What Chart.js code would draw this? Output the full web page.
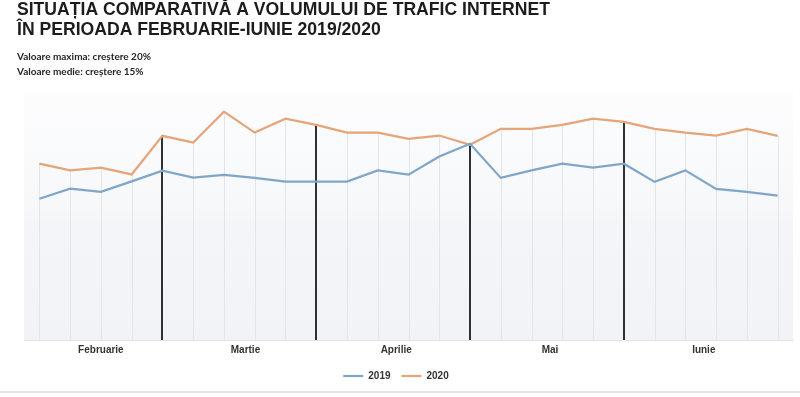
<!DOCTYPE html>
<html>
<head>
<meta charset="utf-8">
<script src="https://cdn.jsdelivr.net/npm/chart.js@4/dist/chart.umd.min.js"></script>
<style>
  html, body { margin: 0; padding: 0; background: #fff; }
  .wrap { width: 800px; height: 391px; border-bottom: 2px solid #e4e4e4; position: relative; }
</style>
</head>
<body>
<div class="wrap"><canvas id="chart" width="800" height="391"></canvas></div>
<script>
const titleLines = ["SITUAȚIA COMPARATIVĂ A VOLUMULUI DE TRAFIC INTERNET", "ÎN PERIOADA FEBRUARIE-IUNIE 2019/2020"];
const subtitleLines = ["Valoare maxima: creștere 20%", "Valoare medie: creștere 15%"];

const months = ["Februarie", "Martie", "Aprilie", "Mai", "Iunie"];
const monthTicks = [2, 6.7, 11.6, 16.6, 21.6];
const monthBreaks = [4, 9, 14, 19];

const values2019 = [56.7, 60.8, 59.5, 63.7, 68.0, 65.2, 66.3, 65.1, 63.6, 63.6, 63.6, 68.1, 66.4,
                    73.7, 78.8, 65.1, 68.1, 70.8, 69.2, 70.8, 63.5, 68.1, 60.7, 59.5, 58.0];
const values2020 = [70.8, 68.1, 69.2, 66.5, 82.0, 79.3, 91.7, 83.3, 88.9, 86.4, 83.3, 83.3, 80.8,
                    82.1, 78.4, 84.8, 84.8, 86.4, 88.9, 87.6, 84.8, 83.3, 82.1, 84.8, 82.0];

const toPoints = arr => arr.map((v, i) => ({ x: i, y: v }));

const labelFont = { family: "'Liberation Sans', Arial, sans-serif", size: 10, weight: 'bold' };

// plot background: white on top, light grey lower down
const plotBackground = {
    id: 'plotBackground',
    beforeDraw(chart) {
        const { ctx, chartArea: a } = chart;
        const g = ctx.createLinearGradient(0, a.top, 0, a.bottom);
        g.addColorStop(0, '#fdfdfe');
        g.addColorStop(0.45, '#f7f8fa');
        g.addColorStop(0.55, '#f3f5f8');
        g.addColorStop(1, '#f1f3f6');
        ctx.save();
        ctx.fillStyle = g;
        ctx.fillRect(a.left, a.top, a.right - a.left, a.bottom - a.top);
        ctx.restore();
    }
};

// vertical drop lines from the highest point down to the axis
const dropLines = {
    id: 'dropLines',
    beforeDatasetsDraw(chart) {
        const { ctx, chartArea: a } = chart;
        const metas = chart.data.datasets.map((d, i) => chart.getDatasetMeta(i));
        const n = metas[0].data.length;
        ctx.save();
        for (let i = 0; i < n; i++) {
            const x = metas[0].data[i].x;
            const top = Math.min(...metas.map(m => m.data[i].y));
            const isBreak = monthBreaks.includes(i);
            const px = Math.round(x) + (isBreak ? 0 : 0.5);
            ctx.beginPath();
            ctx.strokeStyle = isBreak ? '#2f3135' : '#e3e5e9';
            ctx.lineWidth = isBreak ? 2 : 1;
            ctx.moveTo(px, top);
            ctx.lineTo(px, a.bottom);
            ctx.stroke();
        }
        ctx.restore();
    }
};

// legend sits a bit left of the canvas centre in the original
const legendShift = {
    id: 'legendShift',
    afterLayout(chart) {
        chart.legend.left -= 9;
        chart.legend.right -= 9;
    }
};

new Chart(document.getElementById('chart'), {
    type: 'line',
    data: {
        datasets: [
            {
                label: '2019',
                data: toPoints(values2019),
                borderColor: '#7fa6c9',
                backgroundColor: '#7fa6c9',
                borderWidth: 2.2,
                pointRadius: 0,
                tension: 0
            },
            {
                label: '2020',
                data: toPoints(values2020),
                borderColor: '#e6a47a',
                backgroundColor: '#e6a47a',
                borderWidth: 2.2,
                pointRadius: 0,
                tension: 0
            }
        ]
    },
    options: {
        responsive: false,
        animation: false,
        layout: { padding: { left: 17, right: 7, bottom: 0 } },
        plugins: {
            title: {
                display: true,
                text: titleLines,
                align: 'start',
                color: '#1c1c1c',
                font: { family: "'Liberation Sans', Arial, sans-serif", size: 17.6, weight: 'bold', lineHeight: 1.136 },
                padding: { top: 0, bottom: 7.5 }
            },
            subtitle: {
                display: true,
                text: subtitleLines,
                align: 'start',
                color: '#262626',
                font: { family: "Lato, 'Open Sans', sans-serif", size: 10, weight: 'bold', lineHeight: 1.5 },
                padding: { top: 2, bottom: 11.5 }
            },
            legend: {
                position: 'bottom',
                labels: {
                    usePointStyle: true,
                    pointStyle: 'line',
                    pointStyleWidth: 20,
                    color: '#333',
                    padding: 11,
                    font: labelFont
                }
            },
            tooltip: { enabled: false }
        },
        scales: {
            x: {
                type: 'linear',
                min: -0.5,
                max: 24.5,
                afterBuildTicks: scale => { scale.ticks = monthTicks.map(v => ({ value: v })); },
                ticks: {
                    autoSkip: false,
                    maxRotation: 0,
                    padding: 4,
                    color: '#333',
                    font: labelFont,
                    callback: (v, i) => months[i]
                },
                grid: { display: false, drawTicks: false },
                border: { display: true, color: '#e2e4e8' }
            },
            y: {
                min: 0,
                max: 100,
                afterFit: scale => { scale.width = 7; },
                ticks: { display: false },
                grid: { display: false, drawTicks: false },
                border: { display: false }
            }
        }
    },
    plugins: [plotBackground, dropLines, legendShift]
});
</script>
</body>
</html>
